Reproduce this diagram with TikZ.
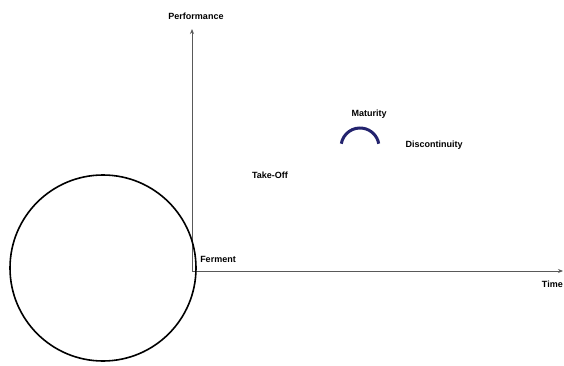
\documentclass[tikz,border=0pt]{standalone}
\usepackage{fontspec}
\setmainfont{Liberation Sans}
\usetikzlibrary{positioning, arrows.meta}
\tikzset{axis/.style={draw=black!65, line width=0.9pt, -{Stealth[length=5pt, width=4pt]}}}
\tikzset{stage/.style={font=\fontsize{9}{10}\selectfont\bfseries, inner sep=0pt}}
\tikzset{ring/.style={circle, draw, line width=1.6pt, minimum size=186pt, inner sep=0pt}}

\begin{document}
\begin{tikzpicture}[x=1pt, y=-1pt]
  \useasboundingbox (0,0) rectangle (564,366);

  % ---- the two axes
  \coordinate (origin) at (192,271);
  \coordinate (ytop) at (192,29);
  \coordinate (xend) at (563,271);
  \draw[axis] (origin) -- (ytop);
  \draw[axis] (origin) -- (xend);

  % ---- axis names
  \node[stage] at (196,16) (perf) {Performance};
  \node[stage, anchor=east] at (563,284) (timelbl) {Time};

  % ---- the stages along the curve
  \node[stage] at (218,259) (ferment) {Ferment};
  \node[stage] at (270,175) (takeoff) {Take-Off};
  \node[stage] at (369,114) (mature) {Maturity};
  \node[stage] at (434,145) (discont) {Discontinuity};

  % the turning arc under Maturity (y runs downwards here)
  \draw[line width=3pt, draw={rgb,255:red,35;green,35;blue,110}]
    (360,147) ++(190:19) arc[start angle=190, end angle=350, radius=19];

  % ---- the big circle over the origin
  \node[ring] at (103,268) (lens) {};

\end{tikzpicture}
\end{document}
